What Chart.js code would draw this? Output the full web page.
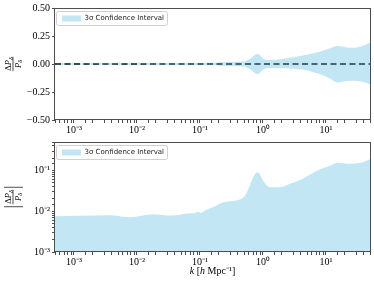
<!DOCTYPE html>
<html>
<head>
<meta charset="utf-8">
<script src="https://cdn.jsdelivr.net/npm/chart.js@4"></script>
<style>
  body { margin: 0; background: #fff; }
  #top { position: absolute; left: 0; top: 0; }
  #bottom { position: absolute; left: 0; top: 130px; }
</style>
</head>
<body>
<canvas id="top" width="374" height="136"></canvas>
<canvas id="bottom" width="374" height="156"></canvas>
<script>
// k in h/Mpc
const kValues = [5e-4, 1.2e-3, 3.7e-3, 7.7e-3, 0.018, 0.03, 0.043, 0.058, 0.083, 0.094, 0.103, 0.12, 0.16, 0.23, 0.39, 0.52, 0.62, 0.7, 0.8, 0.9, 1.0, 1.3, 1.9, 2.7, 4.3, 7.9, 11.6, 15, 24, 35, 50];

// top panel: edges of the 3 sigma band
const bandUpper = [0.0075, 0.0077, 0.008, 0.007, 0.0085, 0.008, 0.008, 0.009, 0.009, 0.0095, 0.009, 0.01, 0.012, 0.016, 0.019, 0.025, 0.045, 0.07, 0.09, 0.078, 0.05, 0.036, 0.042, 0.055, 0.075, 0.11, 0.14, 0.16, 0.145, 0.155, 0.19];
const bandLower = [-0.0075, -0.0077, -0.008, -0.007, -0.0085, -0.008, -0.008, -0.009, -0.009, -0.0095, -0.009, -0.01, -0.012, -0.016, -0.019, -0.025, -0.045, -0.07, -0.09, -0.078, -0.05, -0.035, -0.036, -0.04, -0.05, -0.09, -0.13, -0.165, -0.15, -0.155, -0.18];

// bottom panel: |dP/P|
const absError = [0.0075, 0.0077, 0.008, 0.0071, 0.0084, 0.0079, 0.008, 0.0087, 0.0091, 0.0097, 0.0091, 0.0104, 0.0125, 0.0165, 0.0185, 0.0245, 0.043, 0.068, 0.091, 0.08, 0.057, 0.039, 0.039, 0.047, 0.063, 0.105, 0.13, 0.155, 0.146, 0.155, 0.19];

const kRange = [5e-4, 50];
const zeroLine = [0, 0];
const topTicks = [-0.5, 0.5, 0.25];
const bottomRange = [1e-3, 0.5];
const legendLabel = '3σ Confidence Interval';

const bandColor = 'rgba(135, 206, 235, 0.5)';
const axisColor = '#4d4d4d';
const serif = 'Liberation Serif';

const pts = (xs, ys) => xs.map((x, i) => ({ x: x, y: ys[i] }));

const sup = { '-': '⁻', '0': '⁰', '1': '¹', '2': '²', '3': '³', '4': '⁴', '5': '⁵', '6': '⁶', '7': '⁷', '8': '⁸', '9': '⁹' };
function powLabel(v) {
    const e = Math.log10(v);
    if (Math.abs(e - Math.round(e)) > 1e-6) return '';
    return '10' + String(Math.round(e)).split('').map(c => sup[c]).join('');
}

function logAxis(min, max, fit) {
    return {
        type: 'logarithmic',
        min: min,
        max: max,
        border: { display: false },
        grid: { drawOnChartArea: false, drawTicks: true, tickLength: 3, color: axisColor, tickColor: axisColor },
        ticks: { autoSkip: false, maxRotation: 0, padding: 1, color: '#000', font: { family: serif, size: 10 }, callback: powLabel },
        afterFit: fit
    };
}

// frame + legend border; also puts the legend inside the plot area
const framePlugin = {
    id: 'frame',
    afterLayout(chart) {
        const lg = chart.legend;
        if (!lg) return;
        lg.top = chart.chartArea.top;
        lg.bottom = chart.chartArea.bottom;
    },
    beforeDraw(chart) {
        const lg = chart.legend;
        if (!lg || !lg.legendHitBoxes.length) return;
        const hb = lg.legendHitBoxes[0];
        const ctx = chart.ctx;
        ctx.save();
        ctx.beginPath();
        ctx.roundRect(hb.left - 5.5, hb.top - 3.5, hb.width + 9, hb.height + 7, 2);
        ctx.fillStyle = 'rgba(255,255,255,0.8)';
        ctx.fill();
        ctx.strokeStyle = '#d0d0d0';
        ctx.lineWidth = 1;
        ctx.stroke();
        ctx.restore();
    },
    afterDraw(chart) {
        const a = chart.chartArea;
        const ctx = chart.ctx;
        ctx.save();
        ctx.strokeStyle = axisColor;
        ctx.lineWidth = 1;
        ctx.strokeRect(Math.round(a.left) - 0.5, Math.round(a.top) + 0.5, Math.round(a.right - a.left) + 1, Math.round(a.bottom - a.top) - 1);
        ctx.restore();
    }
};

// rotated fraction dP/P as y axis title
function drawFraction(ctx, cx, cy, bars) {
    ctx.save();
    ctx.translate(cx, cy);
    ctx.rotate(-Math.PI / 2);
    ctx.fillStyle = '#000';
    ctx.textBaseline = 'alphabetic';
    const big = '8.5px "' + serif + '"';
    const bigI = 'italic 8.5px "' + serif + '"';
    const small = 'italic 6px "' + serif + '"';
    ctx.font = big; const wD = ctx.measureText('Δ').width;
    ctx.font = bigI; const wP = ctx.measureText('P').width;
    ctx.font = small; const wS = ctx.measureText('δ').width;
    const wNum = wD + wP + wS;
    const wDen = wP + wS;
    let x = -wNum / 2;
    ctx.font = big; ctx.fillText('Δ', x, -2); x += wD;
    ctx.font = bigI; ctx.fillText('P', x, -2); x += wP;
    ctx.font = small; ctx.fillText('δ', x, -0.5);
    x = -wDen / 2;
    ctx.font = bigI; ctx.fillText('P', x, 7.5); x += wP;
    ctx.font = small; ctx.fillText('δ', x, 9);
    ctx.strokeStyle = '#000';
    ctx.lineWidth = 0.7;
    ctx.beginPath();
    ctx.moveTo(-wNum / 2 - 0.5, 0); ctx.lineTo(wNum / 2 + 0.5, 0);
    if (bars) {
        ctx.moveTo(-wNum / 2 - 3, -9); ctx.lineTo(-wNum / 2 - 3, 10);
        ctx.moveTo(wNum / 2 + 3, -9); ctx.lineTo(wNum / 2 + 3, 10);
    }
    ctx.stroke();
    ctx.restore();
}

const topTitle = {
    id: 'topTitle',
    afterDraw(chart) {
        const a = chart.chartArea;
        drawFraction(chart.ctx, 13, (a.top + a.bottom) / 2, false);
    }
};

const bottomTitles = {
    id: 'bottomTitles',
    afterDraw(chart) {
        const a = chart.chartArea;
        const ctx = chart.ctx;
        drawFraction(ctx, 13, (a.top + a.bottom) / 2, true);
        // x label: k [h Mpc^-1]
        const segs = [
            ['k', 'italic'], [' [', ''], ['h', 'italic'], [' Mpc', ''], ['⁻¹', ''], [']', '']
        ];
        ctx.save();
        ctx.fillStyle = '#000';
        ctx.textBaseline = 'middle';
        let total = 0;
        const widths = segs.map(s => {
            ctx.font = (s[1] ? s[1] + ' ' : '') + '10px "' + serif + '"';
            const w = ctx.measureText(s[0]).width;
            total += w;
            return w;
        });
        let x = (a.left + a.right) / 2 - total / 2;
        segs.forEach((s, i) => {
            ctx.font = (s[1] ? s[1] + ' ' : '') + '10px "' + serif + '"';
            ctx.fillText(s[0], x, 141);
            x += widths[i];
        });
        ctx.restore();
    }
};

const legendOpts = {
    position: 'chartArea',
    align: 'start',
    labels: {
        boxWidth: 19,
        boxHeight: 6,
        padding: 7,
        color: '#222',
        font: { family: 'DejaVu Sans', size: 7 },
        filter: item => item.datasetIndex === 0
    }
};

new Chart(document.getElementById('top'), {
    type: 'line',
    data: {
        datasets: [
            {
                label: legendLabel,
                data: pts(kValues, bandUpper),
                backgroundColor: bandColor,
                borderColor: bandColor,
                borderWidth: 0,
                pointRadius: 0,
                cubicInterpolationMode: 'monotone',
                fill: '+1'
            },
            {
                label: 'lower',
                data: pts(kValues, bandLower),
                backgroundColor: bandColor,
                borderColor: bandColor,
                borderWidth: 0,
                pointRadius: 0,
                cubicInterpolationMode: 'monotone',
                fill: false
            },
            {
                label: 'zero',
                data: pts(kRange, zeroLine),
                borderColor: '#000',
                borderWidth: 2,
                borderDash: [6, 3.5],
                pointRadius: 0,
                fill: false
            }
        ]
    },
    options: {
        responsive: false,
        animation: false,
        devicePixelRatio: 1,
        layout: { padding: { top: 8, right: 4, left: 0, bottom: 0 } },
        plugins: { legend: legendOpts, tooltip: { enabled: false } },
        scales: {
            x: logAxis(kRange[0], kRange[1], s => { s.height = 16; }),
            y: {
                min: topTicks[0],
                max: topTicks[1],
                border: { display: false },
                grid: { drawOnChartArea: false, drawTicks: true, tickLength: 3, color: axisColor },
                ticks: {
                    stepSize: topTicks[2],
                    padding: 2,
                    color: '#000',
                    font: { family: serif, size: 10 },
                    callback: v => v.toFixed(2).replace('-', '−')
                },
                afterFit: s => { s.width = 55; }
            }
        }
    },
    plugins: [framePlugin, topTitle]
});

new Chart(document.getElementById('bottom'), {
    type: 'line',
    data: {
        datasets: [
            {
                label: legendLabel,
                data: pts(kValues, absError),
                backgroundColor: bandColor,
                borderColor: bandColor,
                borderWidth: 0,
                pointRadius: 0,
                cubicInterpolationMode: 'monotone',
                fill: 'start'
            }
        ]
    },
    options: {
        responsive: false,
        animation: false,
        devicePixelRatio: 1,
        layout: { padding: { top: 12, right: 4, left: 0, bottom: 0 } },
        plugins: { legend: legendOpts, tooltip: { enabled: false } },
        scales: {
            x: logAxis(kRange[0], kRange[1], s => { s.height = 34; }),
            y: Object.assign(logAxis(bottomRange[0], bottomRange[1], s => { s.width = 55; }), {
                ticks: { autoSkip: false, padding: 2, color: '#000', font: { family: serif, size: 10 }, callback: powLabel }
            })
        }
    },
    plugins: [framePlugin, bottomTitles]
});
</script>
</body>
</html>
